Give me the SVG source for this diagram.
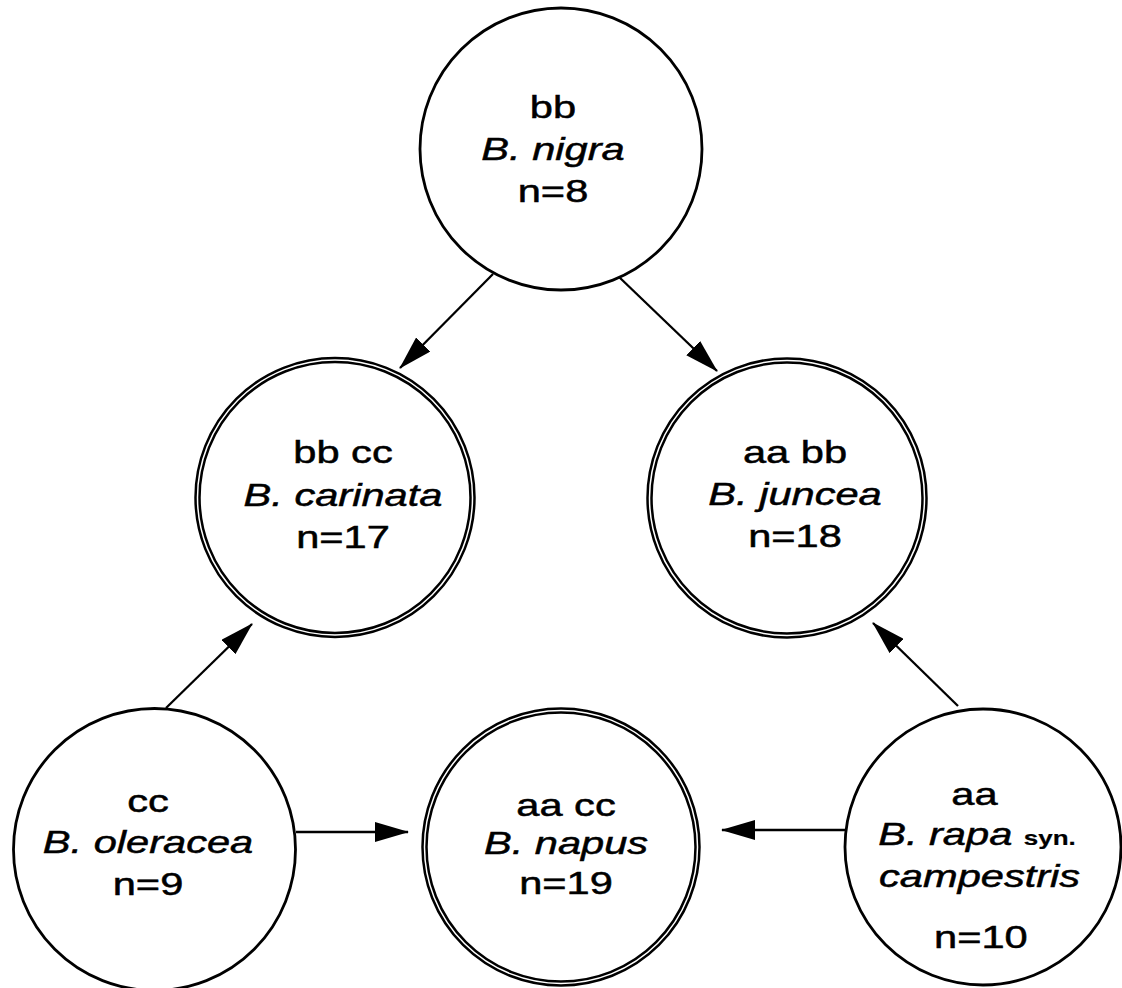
<svg xmlns="http://www.w3.org/2000/svg" width="1122" height="988" viewBox="0 0 1122 988">
  <style>
    .t { font-family: "Liberation Sans", Arial, Helvetica, sans-serif; font-size: 32px; fill: #000; stroke: #000; stroke-width: 0.5; text-anchor: middle; }
    .i { font-style: italic; }
    .syn { font-style: normal; font-weight: bold; font-size: 20px; stroke-width: 0.2; }
    .c1 { fill: #fff; stroke: #000; stroke-width: 2.8; }
    .c2o { fill: #fff; stroke: #000; stroke-width: 6.5; }
    .c2i { fill: none; stroke: #fff; stroke-width: 1.5; }
    .conn line { stroke: #000; stroke-width: 2.3; }
  </style>
  <defs>
    <marker id="ah" markerUnits="userSpaceOnUse" viewBox="0 0 34 20" markerWidth="34" markerHeight="20" refX="33" refY="10" orient="auto">
      <path d="M0,0 L34,10 L0,20 z" fill="#000"/>
    </marker>
  </defs>
  <rect width="1122" height="988" fill="#fff"/>

  <g class="conn">
    <line x1="493" y1="274" x2="400" y2="368" marker-end="url(#ah)"/>
    <line x1="618" y1="276" x2="717" y2="371" marker-end="url(#ah)"/>
    <line x1="166" y1="708" x2="252" y2="624" marker-end="url(#ah)"/>
    <line x1="296" y1="832" x2="408" y2="832" marker-end="url(#ah)"/>
    <line x1="845" y1="830" x2="722" y2="830" marker-end="url(#ah)"/>
    <line x1="958" y1="706" x2="873" y2="623" marker-end="url(#ah)"/>
  </g>

  <g id="nigra">
    <circle class="c1" cx="561" cy="149" r="141"/>
    <g transform="translate(553,0) scale(1.3,1)">
      <text class="t" x="0" y="118">bb</text>
      <text class="t i" x="0" y="160">B. nigra</text>
      <text class="t" x="0" y="202">n=8</text>
    </g>
  </g>

  <g id="carinata">
    <circle class="c2o" cx="335" cy="497.5" r="137.5"/>
    <circle class="c2i" cx="335" cy="497.5" r="137.5"/>
    <g transform="translate(343,0) scale(1.3,1)">
      <text class="t" x="0" y="463">bb cc</text>
      <text class="t i" x="0" y="506">B. carinata</text>
      <text class="t" x="0" y="548">n=17</text>
    </g>
  </g>

  <g id="juncea">
    <circle class="c2o" cx="787" cy="498" r="137.5"/>
    <circle class="c2i" cx="787" cy="498" r="137.5"/>
    <g transform="translate(795,0) scale(1.3,1)">
      <text class="t" x="0" y="463">aa bb</text>
      <text class="t i" x="0" y="505">B. juncea</text>
      <text class="t" x="0" y="547">n=18</text>
    </g>
  </g>

  <g id="oleracea">
    <circle class="c1" cx="154.5" cy="849.5" r="141"/>
    <g transform="translate(148,0) scale(1.3,1)">
      <text class="t" x="0" y="812">cc</text>
      <text class="t i" x="0" y="853">B. oleracea</text>
      <text class="t" x="0" y="895">n=9</text>
    </g>
  </g>

  <g id="napus">
    <circle class="c2o" cx="561" cy="847" r="136.5"/>
    <circle class="c2i" cx="561" cy="847" r="136.5"/>
    <g transform="translate(566,0) scale(1.3,1)">
      <text class="t" x="0" y="816">aa cc</text>
      <text class="t i" x="0" y="854">B. napus</text>
      <text class="t" x="0" y="894">n=19</text>
    </g>
  </g>

  <g id="rapa">
    <circle class="c1" cx="983" cy="847" r="138"/>
    <g transform="translate(977,0) scale(1.3,1)">
      <text class="t" x="-2" y="805">aa</text>
      <text class="t i" x="0" y="845">B. rapa <tspan class="syn">syn.</tspan></text>
      <text class="t i" x="2" y="887">campestris</text>
      <text class="t" x="3" y="948">n=10</text>
    </g>
  </g>
</svg>
